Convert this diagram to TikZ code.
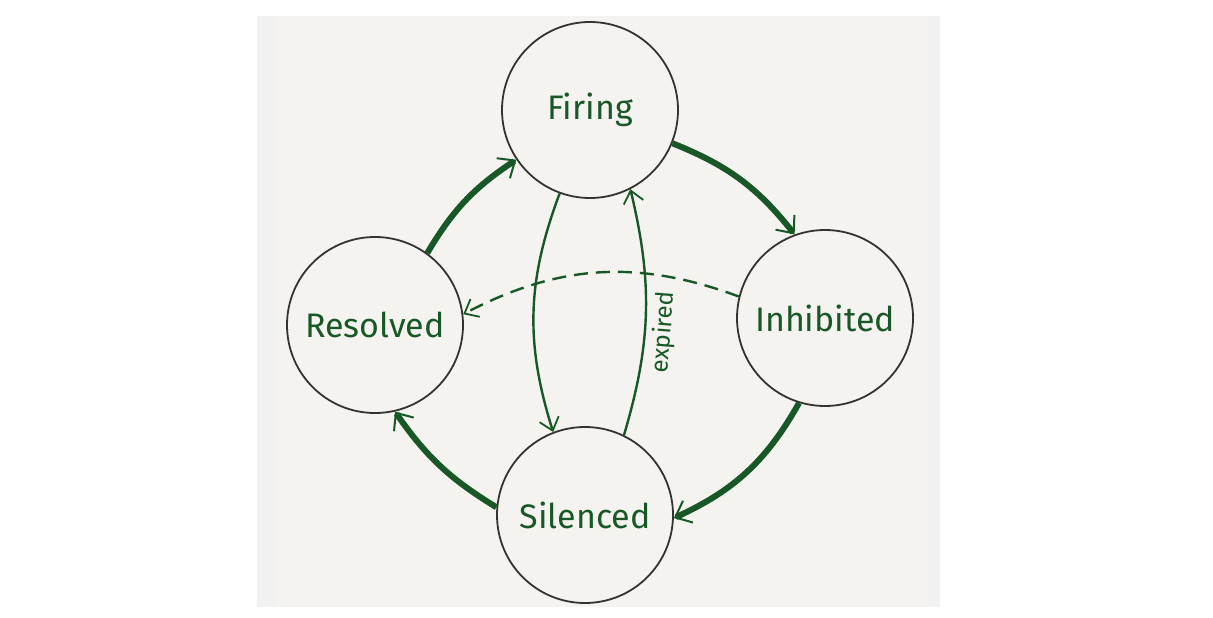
\documentclass[tikz,border=0pt]{standalone}
\usepackage{fontspec}
\setsansfont{Fira Sans}
\usetikzlibrary{positioning,arrows.meta}
\definecolor{stategreen}{RGB}{24,88,38}
\definecolor{statering}{gray}{0.2}
\definecolor{paper}{RGB}{244,243,239}
\definecolor{papergrey}{RGB}{241,241,241}
\tikzset{
  state/.style={circle,draw=statering,line width=0.9pt,minimum size=88pt,inner sep=0pt,
                font=\sffamily\fontsize{17}{20}\selectfont,text=stategreen},
  main/.style={-{Straight Barb[length=7pt,width=12pt,line width=1pt]},line width=3pt,
               draw=stategreen},
  side/.style={-{Straight Barb[length=6pt,width=10pt,line width=0.9pt]},line width=1.2pt,
               draw=stategreen},
  lapsed/.style={side,dash pattern=on 7pt off 4pt},
  lbl/.style={font=\sffamily\fontsize{12}{14}\selectfont,text=stategreen,inner sep=3pt},
}

\begin{document}
\begin{tikzpicture}[x=0.5pt,y=0.5pt]

\useasboundingbox (0,0) rectangle (1213,617);
\fill[papergrey] (257,10) rectangle (940,601);
\fill[paper] (275,10) rectangle (927,601);

\node[state] (fir) at (590,507) {Firing};
\node[state] (inh) at (825,299) {Inhibited};
\node[state] (sil) at (585,102) {Silenced};
\node[state] (res) at (375,292) {Resolved};

% outer cycle
\draw[main] (fir.-22) to[bend left=15] (inh.110);
\draw[main] (inh.-107) to[bend left=18] (sil.-2);
\draw[main] (sil.175) to[bend left=12] (res.-77);
\draw[main] (res.54) to[bend left=13] (fir.-146);

% silence and expiry
\draw[side] (fir.-110) to[bend right=19] (sil.111);
\draw[side] (sil.64) to[bend right=15]
      node[lbl,sloped,below,pos=0.42]{expired} (fir.-63);

\draw[lapsed] (inh.166) to[bend right=24] (res.7);

\end{tikzpicture}
\end{document}
